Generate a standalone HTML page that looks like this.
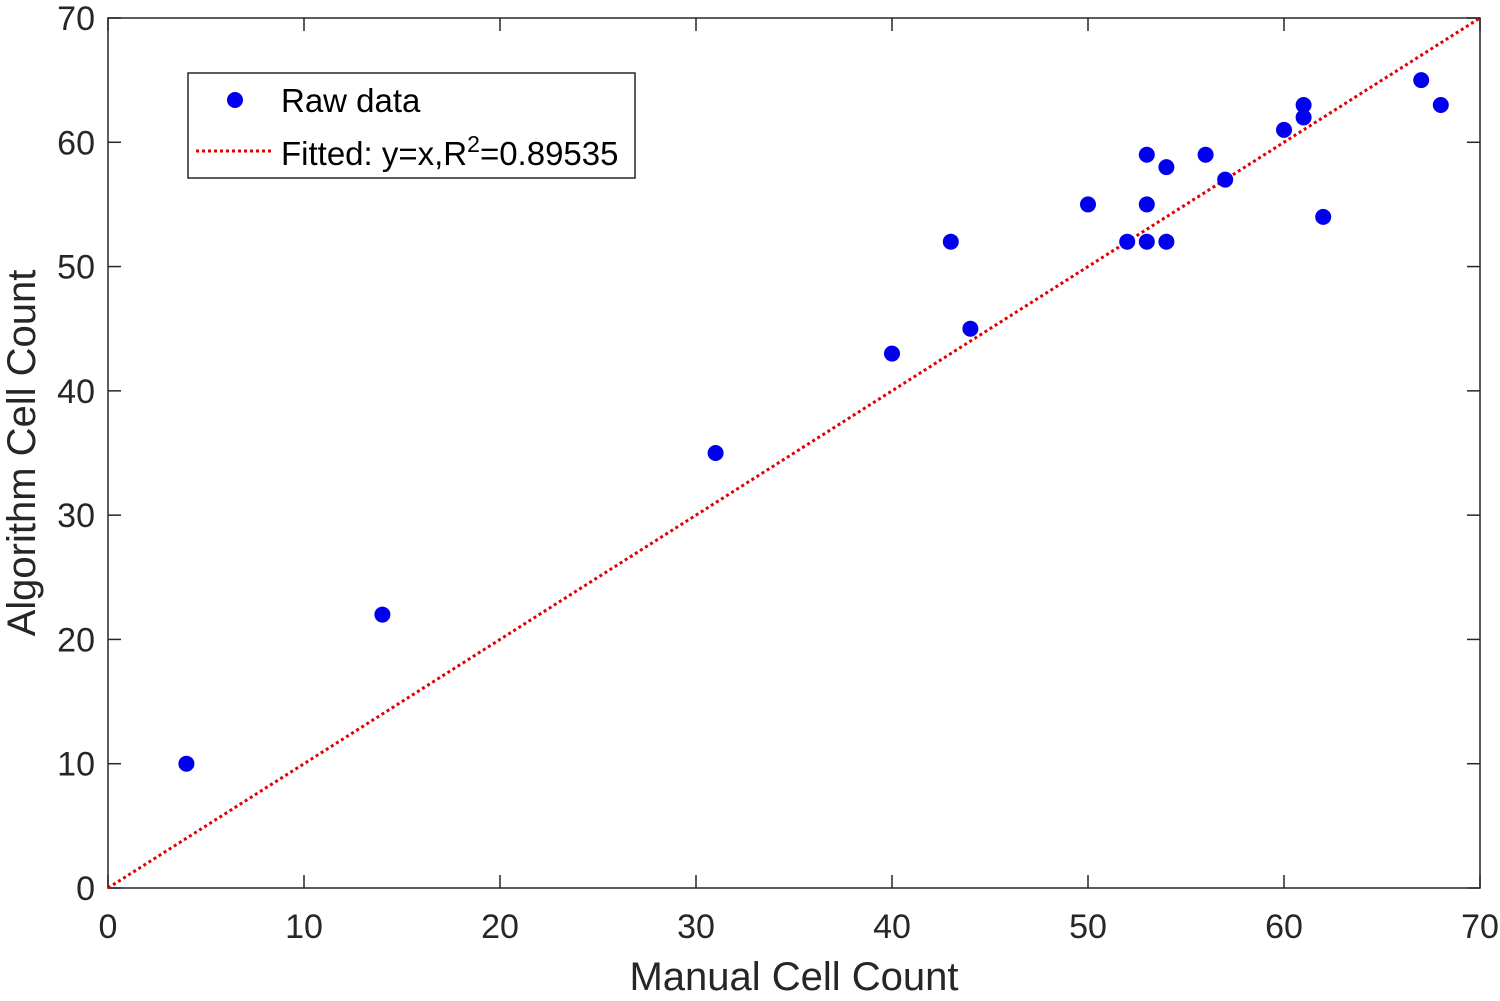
<!DOCTYPE html>
<html><head><meta charset="utf-8"><style>
body{margin:0;background:#fff;}
svg{display:block;font-family:"Liberation Sans",Arial,sans-serif;}
</style></head><body>
<svg id="chart" width="1500" height="1001"></svg>
<script>
const xVals=[4,14,31,40,43,44,50,52,53,53,53,54,54,56,57,60,61,61,62,67,68];
const yVals=[10,22,35,43,52,45,55,52,59,55,52,58,52,59,57,61,63,62,54,65,63];
const xTicks=[0,10,20,30,40,50,60,70];
const yTicks=[0,10,20,30,40,50,60,70];
const fitLine=[0,70];
const L=108,R=1480,T=18,B=888;
const sx=v=>L+(v-0)/70*(R-L);
const sy=v=>B-(v-0)/70*(B-T);
const NS="http://www.w3.org/2000/svg";
const svg=document.getElementById('chart');
function mk(tag,attrs,parent){const e=document.createElementNS(NS,tag);for(const k in attrs)e.setAttribute(k,attrs[k]);(parent||svg).appendChild(e);return e;}
const box=mk('rect',{x:L,y:T,width:R-L,height:B-T,fill:'#fff',stroke:'#262626','stroke-width':1.5});


xTicks.forEach(v=>{
  const x=sx(v);
  mk('line',{x1:x,y1:B,x2:x,y2:B-13,stroke:'#262626','stroke-width':1.5});
  mk('line',{x1:x,y1:T,x2:x,y2:T+13,stroke:'#262626','stroke-width':1.5});
  const t=mk('text',{x:x,y:B+50,'text-anchor':'middle','font-size':34,fill:'#262626'});
  t.textContent=v;
  
  
});
yTicks.forEach(v=>{
  const y=sy(v);
  mk('line',{x1:L,y1:y,x2:L+13,y2:y,stroke:'#262626','stroke-width':1.5});
  mk('line',{x1:R,y1:y,x2:R-13,y2:y,stroke:'#262626','stroke-width':1.5});
  const t=mk('text',{x:L-13,y:y+12,'text-anchor':'end','font-size':34,fill:'#262626'});
  t.textContent=v;
  
  
});
const fl=mk('line',{x1:sx(fitLine[0]),y1:sy(fitLine[0]),x2:sx(fitLine[1]),y2:sy(fitLine[1]),stroke:'#e00000','stroke-width':3,'stroke-dasharray':'3,3'});


xVals.forEach((v,i)=>{
  const c=mk('circle',{cx:sx(v),cy:sy(yVals[i]),r:8,fill:'#0000ee'});
  
  
});
const xl=mk('text',{x:794,y:990,'text-anchor':'middle','font-size':40,fill:'#262626'});
xl.textContent='Manual Cell Count';


const yl=mk('text',{x:0,y:0,'text-anchor':'middle','font-size':40,fill:'#262626',transform:'translate(35,453) rotate(-90)'});
yl.textContent='Algorithm Cell Count';


const lg=mk('g',{});


mk('rect',{x:188,y:73,width:447,height:105,fill:'#fff',stroke:'#262626','stroke-width':1.5},lg);
const lc=mk('circle',{cx:235,cy:100,r:8,fill:'#0000ee'},lg);


const t1=mk('text',{x:281,y:112,'font-size':33,fill:'#000'},lg);
t1.textContent='Raw data';


const ll=mk('line',{x1:196,y1:151,x2:272,y2:151,stroke:'#e00000','stroke-width':3,'stroke-dasharray':'3,3'},lg);


const t2=mk('text',{x:281,y:165,'font-size':33,fill:'#000'},lg);
t2.innerHTML='Fitted: y=x,R<tspan dy="-13" font-size="23">2</tspan><tspan dy="13">=0.89535</tspan>';


</script>
</body></html>
